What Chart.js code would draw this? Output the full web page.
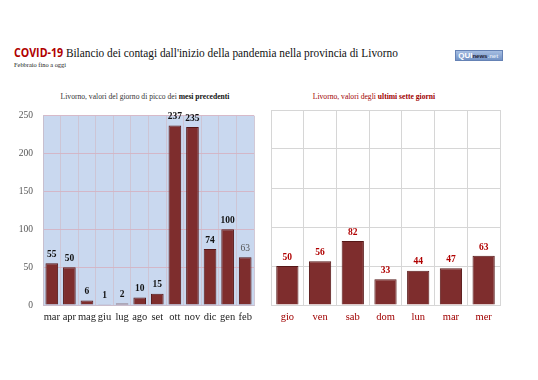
<!DOCTYPE html>
<html><head><meta charset="utf-8">
<script src="https://cdn.jsdelivr.net/npm/chart.js@4/dist/chart.umd.min.js"></script>
<style>
html,body{margin:0;padding:0;background:#fff;width:538px;height:380px;overflow:hidden;position:relative;font-family:"Liberation Serif","DejaVu Serif",serif;}
#title{position:absolute;left:14px;top:44px;font-family:"Liberation Serif","DejaVu Serif",serif;font-size:12.8px;color:#111;white-space:nowrap;transform:scaleX(0.885);transform-origin:0 0;}
#title b{font-family:"Open Sans","Liberation Sans",sans-serif;color:#b00000;font-weight:700;font-size:12px;}
#sub{position:absolute;left:14px;top:61px;font-size:6.4px;color:#222;}
#logo{position:absolute;left:455px;top:50px;width:46px;height:9px;background:linear-gradient(#a6bee2,#7393c6);border:1px solid #6582b5;font-family:"Liberation Sans",sans-serif;font-size:8px;line-height:9px;color:#fff;font-weight:bold;white-space:nowrap;overflow:hidden;}
#logo span{font-size:6px;color:#223;}
.ct{position:absolute;top:92px;font-size:7.6px;white-space:nowrap;text-align:center;}
#c1t{left:35px;width:220px;color:#333;}
#c2t{left:264px;width:220px;color:#a00000;}
#w1{position:absolute;left:0;top:100px;width:262px;height:230px;}
#w2{position:absolute;left:262px;top:100px;width:276px;height:230px;}
</style></head><body>
<div id="title"><b>COVID-19</b> Bilancio dei contagi dall'inizio della pandemia nella provincia di Livorno</div>
<div id="sub">Febbraio fino a oggi</div>
<div id="logo">&nbsp;QUI<span>news</span><span style="color:#dde6f5">.net</span></div>
<div class="ct" id="c1t">Livorno, valori del giorno di picco dei <b style="color:#111">mesi precedenti</b></div>
<div class="ct" id="c2t">Livorno, valori degli <b>ultimi sette giorni</b></div>
<div id="w1"><canvas id="c1" width="262" height="230"></canvas></div>
<div id="w2"><canvas id="c2" width="276" height="230"></canvas></div>
<script>
const months = ["mar","apr","mag","giu","lug","ago","set","ott","nov","dic","gen","feb"];
const monthPeaks = [55,50,6,1,2,10,15,237,235,74,100,63];
const days = ["gio","ven","sab","dom","lun","mar","mer"];
const dayValues = [50,56,82,33,44,47,63];
const yTicks = [0,50,100,150,200,250];

const SERIF = "'Liberation Serif', serif";
const BAR = "#7e2d2d";
const BORDER = "#561717";

const bgPlugin = {
  id:'bg',
  beforeDraw(chart, args, opts){
    if(!opts.color) return;
    const {ctx, chartArea:a} = chart;
    ctx.save(); ctx.fillStyle = opts.color;
    ctx.fillRect(a.left, a.top, a.right-a.left, a.bottom-a.top);
    ctx.restore();
  }
};
const labelPlugin = {
  id:'vlabels',
  afterDatasetsDraw(chart, args, opts){
    const ctx = chart.ctx;
    const meta = chart.getDatasetMeta(0);
    const data = chart.data.datasets[0].data;
    ctx.save();
    ctx.textAlign='center'; ctx.textBaseline='bottom';
    meta.data.forEach((el,i)=>{
      const st = (opts.styles && opts.styles[i]) || {};
      ctx.font = (st.bold===false?'':'bold ') + '9.5px ' + SERIF;
      ctx.fillStyle = st.color || opts.color;
      ctx.fillText(String(data[i]), el.x, el.y-4);
    });
    ctx.restore();
  }
};

function makeChart(id, labels, values, cfg){
  return new Chart(document.getElementById(id), {
    type:'bar',
    data:{labels, datasets:[{data:values, backgroundColor:BAR, borderColor:BORDER, borderWidth:1, barPercentage:cfg.barPct, categoryPercentage:1}]},
    options:{
      responsive:false, animation:false, maintainAspectRatio:false,
      layout:{padding:{top:10,right:cfg.padRight,left:0,bottom:0}},
      plugins:{legend:{display:false}, tooltip:{enabled:false},
        bg:{color:cfg.bg}, vlabels:cfg.labels},
      scales:{
        x:{grid:{display:true, offset:true, color:cfg.vgrid, drawTicks:false},
           border:{display:true,color:cfg.border},
           ticks:{color:cfg.xColor, font:{family:SERIF,size:10.5}, padding:6, autoSkip:false, maxRotation:0},
           afterFit(s){s.height=25;}},
        y:{min:0,max:250, afterBuildTicks(s){s.ticks=yTicks.map(v=>({value:v}));},
           grid:{color:cfg.grid, drawTicks:false},
           border:{display:true,color:cfg.border},
           ticks:{display:cfg.yTicks, color:'#555', font:{family:SERIF,size:9.5}, padding:10},
           afterFit(s){s.width=cfg.yWidth;}}
      }
    },
    plugins:[bgPlugin,labelPlugin]
  });
}

const leftStyles = monthPeaks.map((v,i)=> i===monthPeaks.length-1 ? {bold:false,color:'#555'} : {});
makeChart('c1', months, monthPeaks, {
  barPct:0.72, padRight:8, bg:'#c9d8ef', grid:'rgba(212,180,195,0.9)', vgrid:'rgba(205,195,210,0.9)', border:'rgba(200,190,205,0.9)',
  xColor:'#222', yTicks:true, yWidth:43, labels:{color:'#111', styles:leftStyles}
});
makeChart('c2', days, dayValues, {
  barPct:0.68, padRight:38, bg:null, grid:'#d6d6d6', vgrid:'#d6d6d6', border:'#d6d6d6',
  xColor:'#a00000', yTicks:false, yWidth:9, labels:{color:'#b00000'}
});
</script>
</body></html>
